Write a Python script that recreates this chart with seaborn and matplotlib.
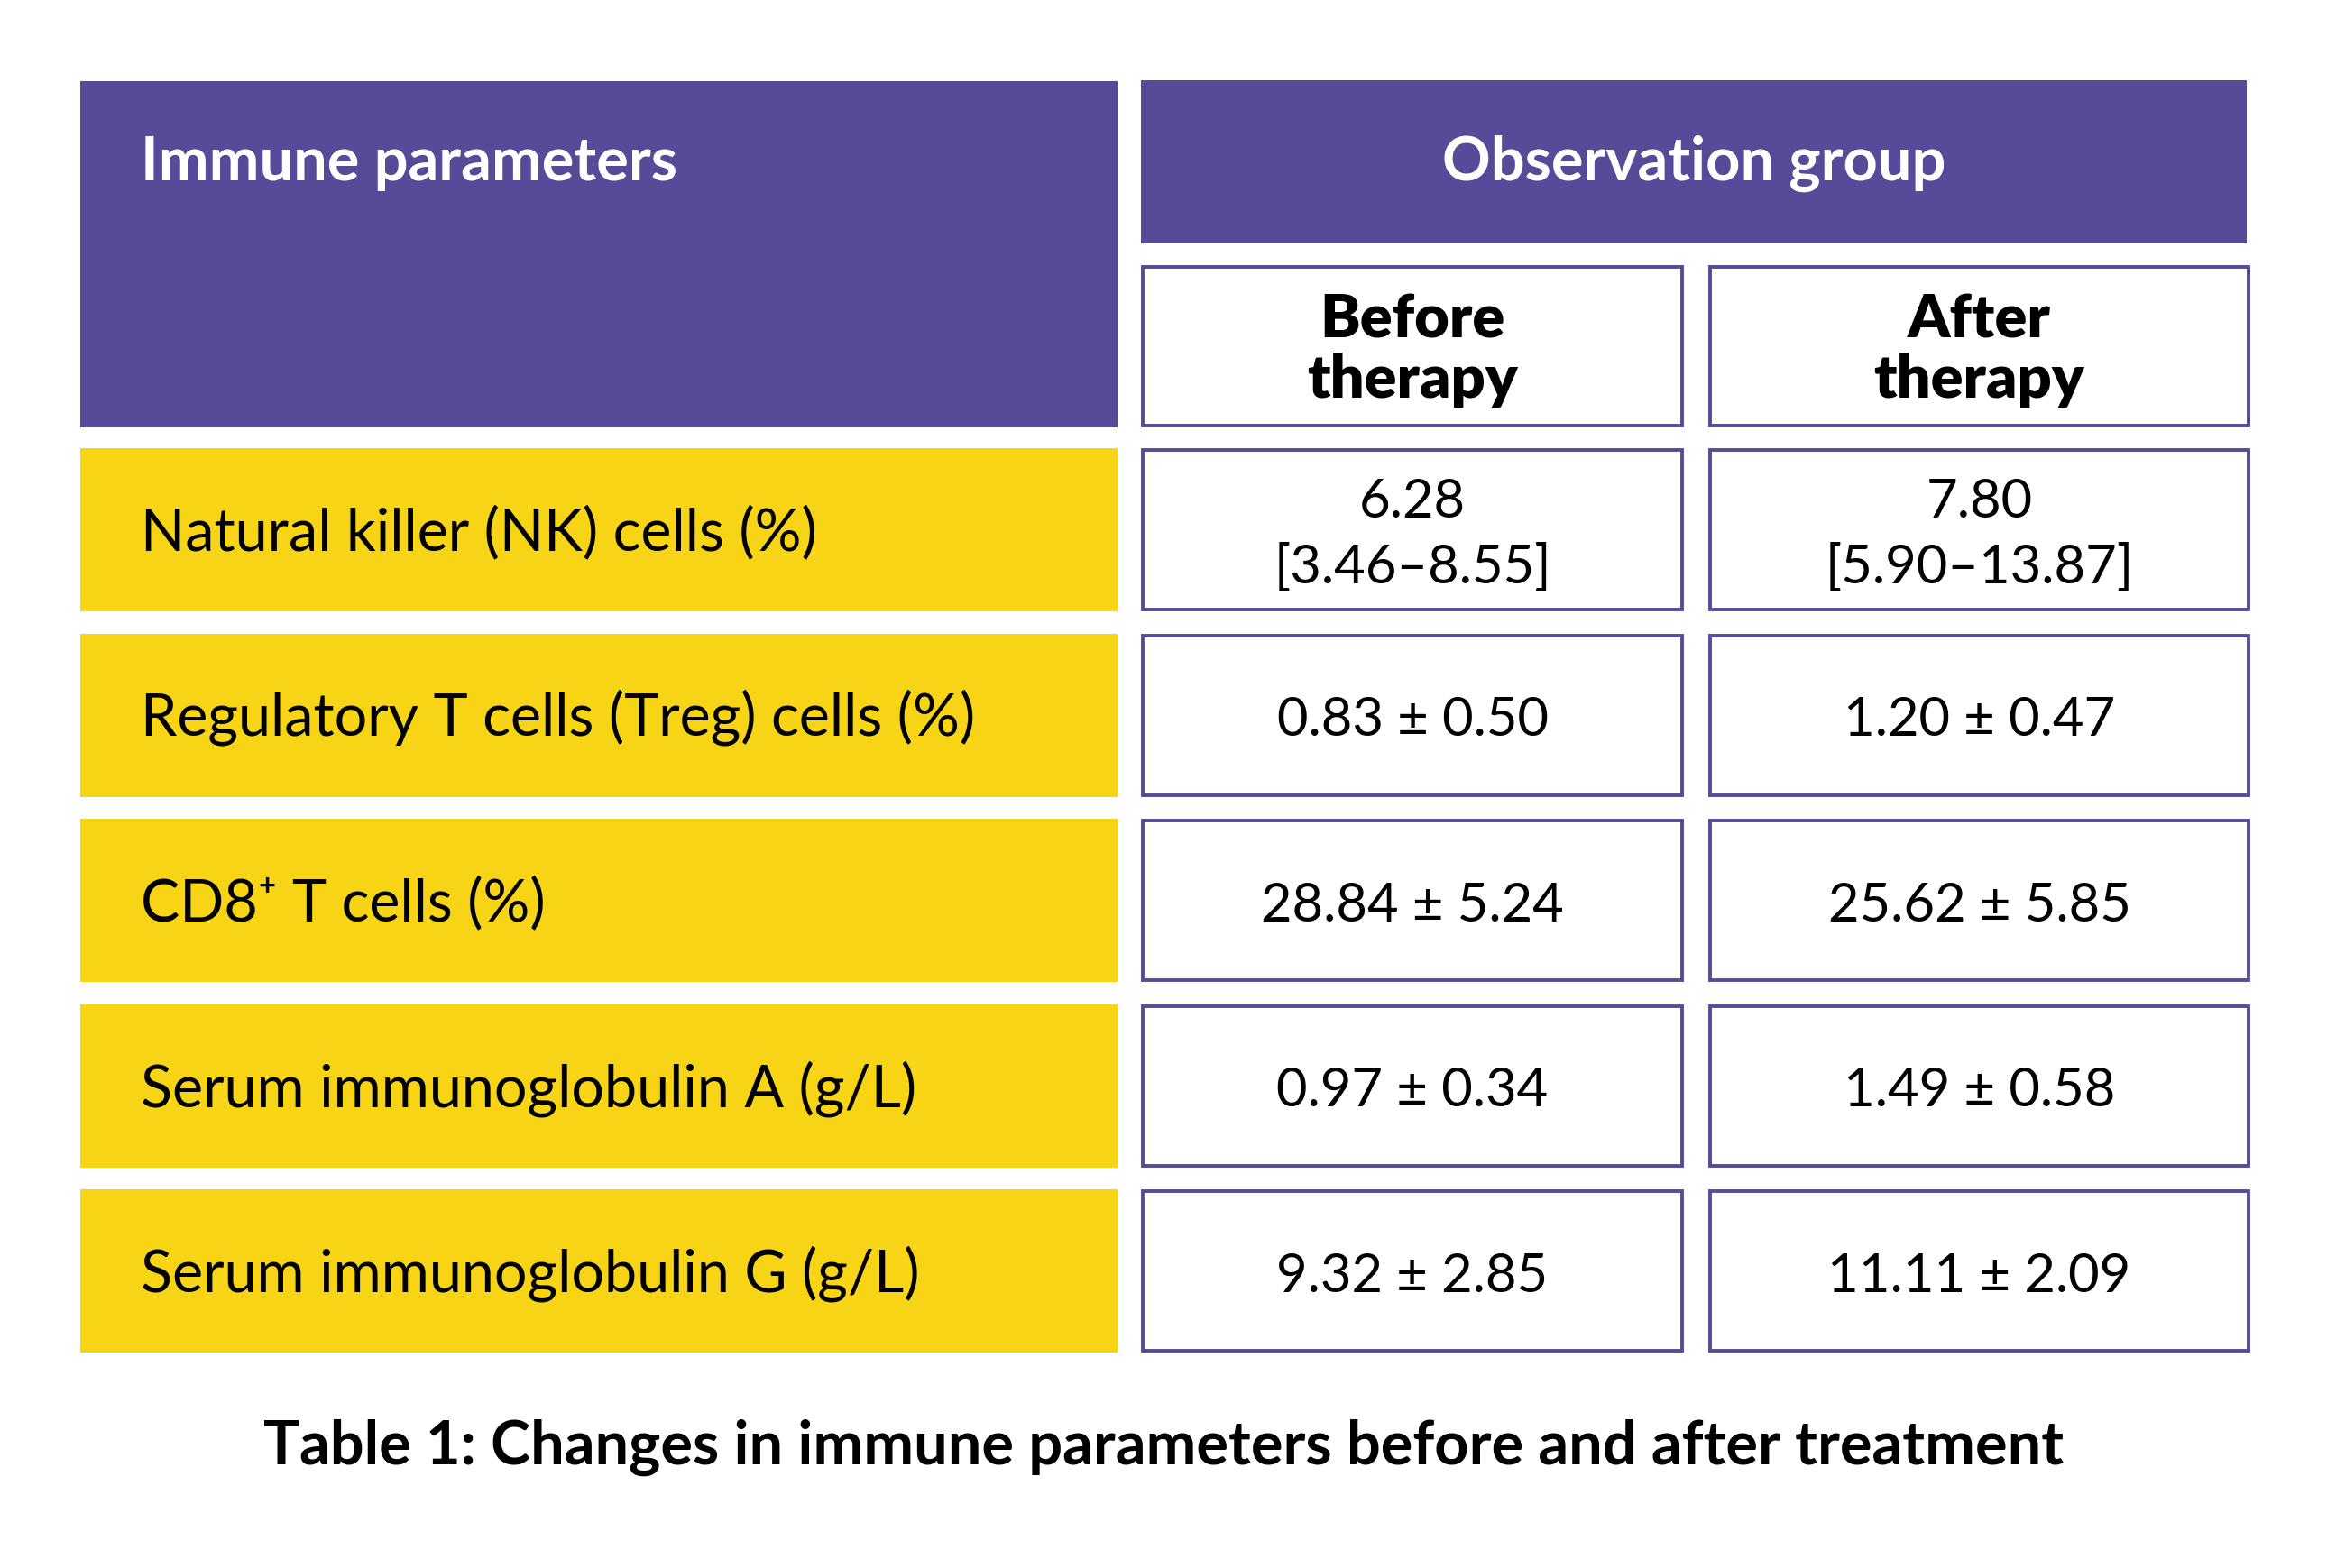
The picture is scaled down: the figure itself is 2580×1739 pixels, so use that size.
import numpy as np
import matplotlib
matplotlib.use("Agg")
import matplotlib.pyplot as plt
from matplotlib.patches import Rectangle
import seaborn as sns

# data
header_left = "Immune parameters"
group_title = "Observation group"
col_titles = ["Before\ntherapy", "After\ntherapy"]
parametros = [
    "Natural killer (NK) cells (%)",
    "Regulatory T cells (Treg) cells (%)",
    "CD8\u207a T cells (%)",
    "Serum immunoglobulin A (g/L)",
    "Serum immunoglobulin G (g/L)",
]
antes = ["6.28\n[3.46\u20138.55]", "0.83 \u00b1 0.50", "28.84 \u00b1 5.24", "0.97 \u00b1 0.34", "9.32 \u00b1 2.85"]
depois = ["7.80\n[5.90\u201313.87]", "1.20 \u00b1 0.47", "25.62 \u00b1 5.85", "1.49 \u00b1 0.58", "11.11 \u00b1 2.09"]
legenda = "Table 1: Changes in immune parameters before and after treatment"

roxo = "#564a99"
amarelo = "#f7d416"

sns.set_theme(style="white")
plt.rcParams['font.family'] = ['Lato', 'DejaVu Sans']

W, H = 2580, 1739
fig = plt.figure(figsize=(W / 100, H / 100), dpi=100)
ax = fig.add_axes([0, 0, 1, 1])
ax.set_xlim(0, W)
ax.set_ylim(H, 0)
ax.axis("off")

# colunas (x inicio, x fim)
col_esq = (89, 1239)
col_antes = (1265, 1867)
col_depois = (1894, 2495)

# cabecalho
ax.add_patch(Rectangle((col_esq[0], 90), col_esq[1] - col_esq[0], 474 - 90, color=roxo, lw=0))
ax.text(156, 181, header_left, color="white", fontsize=48, fontweight="bold",
        ha="left", va="center")
ax.add_patch(Rectangle((col_antes[0], 89), 2491 - col_antes[0], 270 - 89, color=roxo, lw=0))
ax.text((col_antes[0] + 2491) / 2, 181, group_title, color="white", fontsize=48,
        fontweight="bold", ha="center", va="center")

for (x0, x1), titulo in zip([col_antes, col_depois], col_titles):
    ax.add_patch(Rectangle((x0 + 2, 296), x1 - x0 - 4, 474 - 298, facecolor="white",
                           edgecolor=roxo, lw=2.8))
    ax.text((x0 + x1) / 2, 388, titulo, color="black", fontsize=48, fontweight="heavy",
            ha="center", va="center", linespacing=1.1)

# linhas
y0 = 497
passo = 205.6
altura = 181
for i, (nome, a, d) in enumerate(zip(parametros, antes, depois)):
    y = y0 + i * passo
    ax.add_patch(Rectangle((col_esq[0], y), col_esq[1] - col_esq[0], altura, color=amarelo, lw=0))
    ax.text(156, y + altura / 2 + 3, nome, color="black", fontsize=46.5, ha="left", va="center")
    for (x0, x1), val in zip([col_antes, col_depois], [a, d]):
        ax.add_patch(Rectangle((x0 + 2, y + 2), x1 - x0 - 4, altura - 4, facecolor="white",
                               edgecolor=roxo, lw=2.8))
        ax.text((x0 + x1) / 2, y + altura / 2 + 6, val, color="black", fontsize=43,
                ha="center", va="center", linespacing=1.4)

ax.text(1290, 1605, legenda, color="black", fontsize=48, fontweight="bold",
        ha="center", va="center")

fig.savefig("out.png", dpi=100, facecolor="white")
